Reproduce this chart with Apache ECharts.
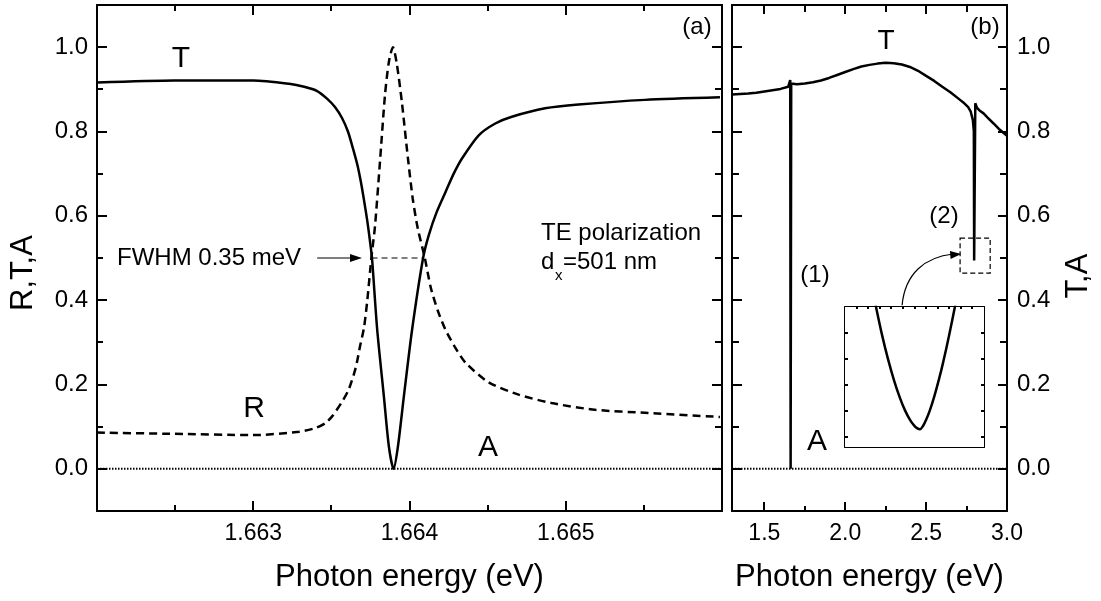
<!DOCTYPE html>
<html>
<head>
<meta charset="utf-8">
<title>R, T, A spectra</title>
<script src="https://cdn.jsdelivr.net/npm/echarts@6/dist/echarts.min.js"></script>
<style>
  html, body { margin: 0; padding: 0; background: #fff; }
  #chart { width: 1101px; height: 601px; }
</style>
</head>
<body>
<div id="chart"></div>
<script>
// ---- panel (a): around the resonance ----
const aTx = [1.662, 1.662496, 1.663, 1.66323, 1.663326, 1.663409, 1.663472, 1.663523, 1.663568, 1.663606,
  1.663638, 1.663667, 1.663689, 1.663712, 1.663731, 1.663747, 1.66376, 1.663793, 1.663836, 1.663868,
  1.663898, 1.663926, 1.663964, 1.664017, 1.664087, 1.664124, 1.664175, 1.66423, 1.664283, 1.664336,
  1.664443, 1.664549, 1.664655, 1.664868, 1.665081, 1.665507, 1.665987]
const aT = [0.916, 0.921, 0.921, 0.913, 0.906, 0.896, 0.878, 0.858, 0.832, 0.8,
  0.76, 0.72, 0.68, 0.63, 0.585, 0.54, 0.5, 0.331, 0.172, 0.053,
  0.0, 0.053, 0.172, 0.331, 0.5, 0.555, 0.61, 0.656, 0.7, 0.736,
  0.791, 0.819, 0.835, 0.855, 0.864, 0.875, 0.881]

const aRx = [1.662, 1.662496, 1.663, 1.663294, 1.6634, 1.663464, 1.663506, 1.66357, 1.663613, 1.663656,
  1.663683, 1.663709, 1.66373, 1.663756, 1.663779, 1.663811, 1.663843, 1.663868, 1.663894, 1.663919,
  1.663951, 1.663989, 1.664021, 1.664053, 1.664098, 1.664136, 1.664181, 1.66423, 1.664289, 1.664358,
  1.664507, 1.664698, 1.664909, 1.665188, 1.665507, 1.665987]
const aR = [0.086, 0.083, 0.08, 0.088, 0.097, 0.109, 0.125, 0.16, 0.19, 0.24,
  0.29, 0.335, 0.4, 0.5, 0.575, 0.728, 0.886, 0.965, 1.0, 0.96,
  0.87, 0.74, 0.64, 0.57, 0.5, 0.43, 0.375, 0.33, 0.29, 0.252,
  0.205, 0.176, 0.156, 0.14, 0.133, 0.123]

const aAx = [1.662, 1.666]
const aA = [0, 0]

const fwhmX = [1.663757, 1.664087]
const fwhmY = [0.5, 0.5]

// ---- panel (b): wide range ----
const bTx = [1.3, 1.35, 1.4, 1.45, 1.5, 1.55, 1.6, 1.647, 1.66, 1.6625,
  1.6645, 1.666, 1.7, 1.75, 1.8, 1.85, 1.9, 1.95, 2.0, 2.05,
  2.1, 2.15, 2.2, 2.25, 2.3, 2.35, 2.4, 2.45, 2.5, 2.55,
  2.6, 2.65, 2.7, 2.73, 2.76, 2.775, 2.789, 2.795, 2.797, 2.8,
  2.804, 2.815, 2.83, 2.855, 2.88, 2.917, 2.95, 3.0]
const bT = [0.888, 0.889, 0.89, 0.892, 0.895, 0.898, 0.901, 0.906, 0.922, 0.0,
  0.0, 0.914, 0.912, 0.914, 0.917, 0.921, 0.927, 0.934, 0.941, 0.948,
  0.954, 0.958, 0.961, 0.963, 0.962, 0.959, 0.953, 0.944, 0.932, 0.92,
  0.906, 0.893, 0.878, 0.869, 0.858, 0.848, 0.827, 0.8, 0.494, 0.494,
  0.867, 0.856, 0.85, 0.843, 0.833, 0.819, 0.806, 0.79]

const bAx = [1.3, 3.0]
const bA = [0, 0]

// dashed box around dip (2)
const boxX = [2.71, 2.896]
const boxY = [0.464, 0.547]

// ---- inset: dip (2) magnified ----
const insetX = [2.79708, 2.797339, 2.797598, 2.797857, 2.798116, 2.798375, 2.79859, 2.798806, 2.798979, 2.799108,
  2.799238, 2.799368, 2.799497, 2.79967, 2.799855, 2.800058, 2.800244, 2.80049, 2.800749, 2.800965]
const insetT = [0.55134, 0.54, 0.52924, 0.51987, 0.51169, 0.50483, 0.50012, 0.49646, 0.49433, 0.49329,
  0.49283, 0.4941, 0.49638, 0.50035, 0.50556, 0.51219, 0.51894, 0.52889, 0.54027, 0.55065]

// ---- axis ranges and ticks ----
const aXRange = [1.662, 1.666]
const bXRange = [1.3, 3.0]
const yRange = [-0.1, 1.1]
const insetXRange = [2.796, 2.802]
const insetYRange = [0.486, 0.54]

const yMajor = [0, 0.2, 0.4, 0.6, 0.8, 1.0]
const yMinor = [0.1, 0.3, 0.5, 0.7, 0.9]
const aXMajor = [1.663, 1.664, 1.665]
const aXMinor = [1.6625, 1.6635, 1.6645, 1.6655]
const bXMajor = [1.5, 2.0, 2.5]
const bXMinor = [1.75, 2.25, 2.75]
const bXLabels = [1.5, 2.0, 2.5, 3.0]
const insetYTicks = [0.49, 0.5, 0.51, 0.52, 0.53]
const insetXTicks = [2.7965, 2.797, 2.7975, 2.798, 2.7985, 2.799, 2.7995, 2.8, 2.8005, 2.801, 2.8015]

// ---- annotation anchors (data units) ----
const fwhmArrow = [[1.663409, 0.5], [1.663696, 0.5]]
const zoomArrow = [[2.3514, 0.388], [2.717, 0.5095]]

const FONT = 'Liberation Sans, Arial, Helvetica, sans-serif'
const pairs = (xs, ys) => xs.map((x, i) => [x, ys[i]])

function axis(gridIndex, position, range, extra) {
  return Object.assign({
    type: 'value',
    gridIndex,
    position,
    min: range[0],
    max: range[1],
    axisLine: { show: true, onZero: false, lineStyle: { color: '#000', width: 2 } },
    axisTick: { show: false },
    axisLabel: { show: false },
    splitLine: { show: false }
  }, extra || {})
}

const labelStyle = { show: true, color: '#000', fontFamily: FONT }
const nameStyle = { color: '#000', fontSize: 31, fontFamily: FONT }

const option = {
  backgroundColor: '#fff',
  animation: false,
  grid: [
    { left: 97, top: 5, width: 625, height: 506, outerBoundsMode: 'none', containLabel: false },
    { left: 732, top: 5, width: 275, height: 506, outerBoundsMode: 'none', containLabel: false },
    { left: 845, top: 307, width: 139, height: 140, outerBoundsMode: 'none', containLabel: false,
      show: true, backgroundColor: '#fff', borderWidth: 0, z: 5 }
  ],
  xAxis: [
    axis(0, 'bottom', aXRange, {
      axisLabel: Object.assign({ customValues: aXMajor, margin: 11, fontSize: 23, formatter: v => v.toFixed(3) }, labelStyle),
      name: 'Photon energy (eV)', nameLocation: 'middle', nameGap: 51, nameTextStyle: nameStyle
    }),
    axis(0, 'top', aXRange),
    axis(1, 'bottom', bXRange, {
      axisLabel: Object.assign({ customValues: bXLabels, margin: 11, fontSize: 23, formatter: v => v.toFixed(1) }, labelStyle),
      name: 'Photon energy (eV)', nameLocation: 'middle', nameGap: 51, nameTextStyle: nameStyle
    }),
    axis(1, 'top', bXRange),
    axis(2, 'top', insetXRange),
    axis(2, 'bottom', insetXRange)
  ],
  yAxis: [
    axis(0, 'left', yRange, {
      axisLabel: Object.assign({ customValues: yMajor, margin: 9, fontSize: 24, formatter: v => v.toFixed(1) }, labelStyle)
    }),
    axis(0, 'right', yRange),
    axis(1, 'left', yRange),
    axis(1, 'right', yRange, {
      axisLabel: Object.assign({ customValues: yMajor, margin: 10, fontSize: 24, formatter: v => v.toFixed(1) }, labelStyle)
    }),
    axis(2, 'left', insetYRange),
    axis(2, 'right', insetYRange)
  ],
  series: [
    {
      name: 'T (a)', type: 'line', xAxisIndex: 0, yAxisIndex: 0, symbol: 'none', silent: true,
      data: pairs(aTx, aT), smooth: 0.25, lineStyle: { color: '#000', width: 2.5 }
    },
    {
      name: 'R (a)', type: 'line', xAxisIndex: 0, yAxisIndex: 0, symbol: 'none', silent: true,
      data: pairs(aRx, aR), smooth: 0.25, lineStyle: { color: '#000', width: 2.5, type: [8, 5] }
    },
    {
      name: 'A (a)', type: 'line', xAxisIndex: 0, yAxisIndex: 0, symbol: 'none', silent: true,
      data: pairs(aAx, aA), lineStyle: { color: '#000', width: 2, type: [1.5, 1.5] }
    },
    {
      name: 'FWHM', type: 'line', xAxisIndex: 0, yAxisIndex: 0, symbol: 'none', silent: true,
      data: pairs(fwhmX, fwhmY), lineStyle: { color: '#000', width: 1.2, type: [6, 4] }
    },
    {
      name: 'T (b)', type: 'line', xAxisIndex: 2, yAxisIndex: 2, symbol: 'none', silent: true,
      data: pairs(bTx, bT), lineStyle: { color: '#000', width: 2.5 },
      markArea: {
        silent: true,
        label: { show: false },
        itemStyle: { color: 'rgba(0,0,0,0)', borderColor: '#000', borderWidth: 1.2, borderType: [5, 3] },
        data: [[{ coord: [boxX[0], boxY[1]] }, { coord: [boxX[1], boxY[0]] }]]
      }
    },
    {
      name: 'A (b)', type: 'line', xAxisIndex: 2, yAxisIndex: 2, symbol: 'none', silent: true,
      data: pairs(bAx, bA), lineStyle: { color: '#000', width: 2, type: [1.5, 1.5] }
    },
    {
      name: 'T inset', type: 'line', xAxisIndex: 4, yAxisIndex: 4, symbol: 'none', silent: true,
      data: pairs(insetX, insetT), smooth: 0.3, lineStyle: { color: '#000', width: 2.5 }, z: 6
    }
  ]
}

const chart = echarts.init(document.getElementById('chart'))
chart.setOption(option)

const toPx = (xi, yi, p) => chart.convertToPixel({ xAxisIndex: xi, yAxisIndex: yi }, p)

// inward tick marks, placed through the axis scales
function ticks(xi, yi, xr, yr, values, side, len) {
  return values.map(v => {
    let p, d
    if (side === 'bottom') { p = toPx(xi, yi, [v, yr[0]]); d = [0, -len] }
    else if (side === 'top') { p = toPx(xi, yi, [v, yr[1]]); d = [0, len] }
    else if (side === 'left') { p = toPx(xi, yi, [xr[0], v]); d = [len, 0] }
    else { p = toPx(xi, yi, [xr[1], v]); d = [-len, 0] }
    const x = d[0] === 0 ? Math.round(p[0]) : p[0]
    const y = d[1] === 0 ? Math.round(p[1]) : p[1]
    return {
      type: 'line', z: 50, silent: true,
      shape: { x1: x, y1: y, x2: x + d[0], y2: y + d[1] },
      style: { stroke: '#000', lineWidth: 2 }
    }
  })
}

function head(tip, from, len, half) {
  const dx = tip[0] - from[0], dy = tip[1] - from[1]
  const d = Math.hypot(dx, dy), ux = dx / d, uy = dy / d
  const bx = tip[0] - ux * len, by = tip[1] - uy * len
  return {
    type: 'polygon', z: 100, silent: true,
    shape: { points: [tip, [bx - uy * half, by + ux * half], [bx + uy * half, by - ux * half]] },
    style: { fill: '#000' }
  }
}

function label(text, x, y, size, align, extra) {
  return Object.assign({
    type: 'text', x, y, z: 100, silent: true,
    style: { text, fontSize: size, fontFamily: FONT, fill: '#000', align: align || 'center', verticalAlign: 'middle' }
  }, extra || {})
}

const f0 = toPx(0, 0, fwhmArrow[0]), f1 = toPx(0, 0, fwhmArrow[1])
const z0 = toPx(2, 2, zoomArrow[0]), z1 = toPx(2, 2, zoomArrow[1])
const c1 = [z0[0] + 3, z0[1] - 32], c2 = [z1[0] - 36, z1[1] + 3]

const tickEls = [].concat(
  ticks(0, 0, aXRange, yRange, aXMajor, 'bottom', 10),
  ticks(0, 0, aXRange, yRange, aXMinor, 'bottom', 6),
  ticks(0, 0, aXRange, yRange, aXMajor, 'top', 10),
  ticks(0, 0, aXRange, yRange, aXMinor, 'top', 6),
  ticks(0, 0, aXRange, yRange, yMajor, 'left', 10),
  ticks(0, 0, aXRange, yRange, yMinor, 'left', 6),
  ticks(0, 0, aXRange, yRange, yMajor, 'right', 10),
  ticks(0, 0, aXRange, yRange, yMinor, 'right', 7),
  ticks(2, 2, bXRange, yRange, bXMajor, 'bottom', 9),
  ticks(2, 2, bXRange, yRange, bXMinor, 'bottom', 5),
  ticks(2, 2, bXRange, yRange, bXMajor, 'top', 9),
  ticks(2, 2, bXRange, yRange, bXMinor, 'top', 7),
  ticks(2, 2, bXRange, yRange, yMajor, 'left', 10),
  ticks(2, 2, bXRange, yRange, yMinor, 'left', 7),
  ticks(2, 2, bXRange, yRange, yMajor, 'right', 9),
  ticks(2, 2, bXRange, yRange, yMinor, 'right', 7),
  ticks(4, 4, insetXRange, insetYRange, insetYTicks, 'left', 3),
  ticks(4, 4, insetXRange, insetYRange, insetYTicks, 'right', 3),
  ticks(4, 4, insetXRange, insetYRange, insetXTicks, 'top', 2)
)

chart.setOption({
  graphic: tickEls.concat([
    // fwhm arrow
    { type: 'line', z: 100, silent: true, shape: { x1: f0[0], y1: f0[1], x2: f1[0] - 10, y2: f1[1] }, style: { stroke: '#000', lineWidth: 1.2 } },
    head(f1, f0, 12, 4),
    // arrow from the inset to the dashed box
    { type: 'bezierCurve', z: 100, silent: true,
      shape: { x1: z0[0], y1: z0[1], cpx1: c1[0], cpy1: c1[1], cpx2: c2[0], cpy2: c2[1], x2: z1[0] - 8, y2: z1[1] },
      style: { stroke: '#000', lineWidth: 1.2, fill: null } },
    head(z1, c2, 11, 4),
    // panel (a) texts
    label('T', 181, 59, 30),
    label('R', 254, 409, 30),
    label('A', 488, 448, 30),
    label('FWHM 0.35 meV', 117, 258.5, 24, 'left'),
    label('TE polarization', 541, 233, 24, 'left'),
    label('d', 541, 262.5, 24, 'left'),
    label('x', 555, 276, 15, 'left'),
    label('=501 nm', 563, 262.5, 24, 'left'),
    label('(a)', 697, 27, 24),
    // panel (b) texts
    label('(b)', 985, 27, 24),
    label('T', 886, 41, 28),
    label('(1)', 815, 275, 24),
    label('(2)', 944, 216, 24),
    label('A', 817, 442, 30),
    // y axis titles
    label('R,T,A', 23, 273, 31, 'center', { rotation: Math.PI / 2 }),
    label('T,A', 1078, 276, 31, 'center', { rotation: Math.PI / 2 })
  ])
})

window.addEventListener('resize', () => chart.resize())
</script>
</body>
</html>
